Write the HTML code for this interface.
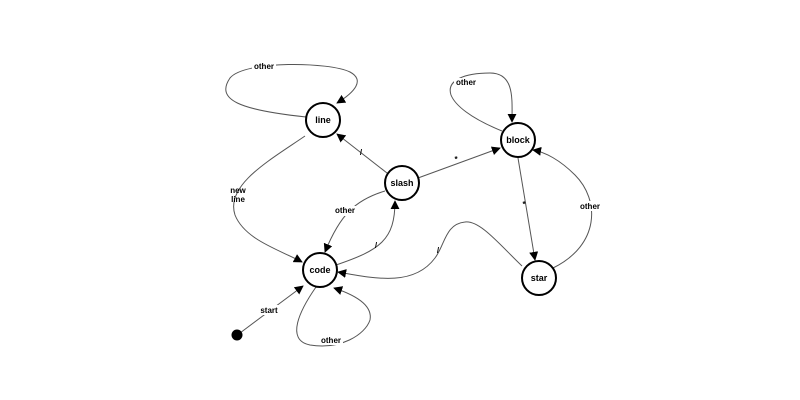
<!DOCTYPE html>
<html><head><meta charset="utf-8"><style>
body{margin:0;background:#fff;}
svg{display:block;font-family:"Liberation Sans",Arial,sans-serif;font-weight:bold;font-size:9px;}
</style></head><body>
<svg width="800" height="400" viewBox="0 0 800 400">
<defs><marker id="a" viewBox="0 0 10 10" refX="9" refY="5" markerWidth="9" markerHeight="9" markerUnits="userSpaceOnUse" orient="auto"><path d="M0,0L10,5L0,10z" fill="#000"/></marker></defs>
<g fill="none" stroke="#555" stroke-width="1" marker-end="url(#a)">
<path d="M306,117 C240,110 215,100 230,78 C245,60 330,62 350,72 C365,80 355,92 337,103"/>
<path d="M305,136 C270,160 225,185 235,215 C245,240 280,250 302,262"/>
<path d="M387,173 L337,134"/>
<path d="M385,191 C355,200 340,215 325,252"/>
<path d="M336,265 C380,250 395,240 395,201"/>
<path d="M418,178 L500,148"/>
<path d="M502,131 C470,118 455,105 451,95 C446,80 465,73 490,73 C515,73 512,100 512,122"/>
<path d="M518,158 L535,260"/>
<path d="M553,268 C600,245 600,200 575,175 C560,160 545,152 533,150"/>
<path d="M522,266 C500,245 480,220 465,222 C445,224 445,245 435,258 C415,285 380,280 338,272"/>
<path d="M316,287 C300,310 285,340 310,345 C340,350 365,335 370,320 C373,305 355,295 334,288"/>
<path d="M240,333 L303,286"/>
</g>
<g fill="#fff" stroke="#000" stroke-width="2">
<circle cx="323" cy="120" r="17"/>
<circle cx="402" cy="183" r="17"/>
<circle cx="320" cy="270" r="17"/>
<circle cx="518" cy="140" r="17"/>
<circle cx="539" cy="278" r="17"/>
</g>
<circle cx="237" cy="335" r="5.5" fill="#000"/>
<g text-anchor="middle" fill="#000">
<text x="323" y="123">line</text>
<text x="402" y="186">slash</text>
<text x="320" y="273">code</text>
<text x="518" y="143">block</text>
<text x="539" y="281">star</text>
</g>
<g text-anchor="middle" fill="#000" font-size="8">
<rect x="252" y="61" width="24" height="10" fill="#fff"/><text x="264" y="69">other</text>
<text x="238" y="193">new</text><text x="238" y="202">line</text>
<text x="361" y="155">/</text>
<rect x="333" y="206" width="24" height="10" fill="#fff"/><text x="345" y="213">other</text>
<text x="376" y="248">/</text>
<text x="456" y="162">*</text>
<rect x="454" y="78" width="24" height="10" fill="#fff"/><text x="466" y="85">other</text>
<text x="524" y="207">*</text>
<rect x="578" y="201" width="24" height="10" fill="#fff"/><text x="590" y="209">other</text>
<text x="438" y="253">/</text>
<rect x="319" y="335" width="24" height="10" fill="#fff"/><text x="331" y="343">other</text>
<rect x="258" y="305" width="22" height="10" fill="#fff"/><text x="269" y="313">start</text>
</g>
</svg>
</body></html>
